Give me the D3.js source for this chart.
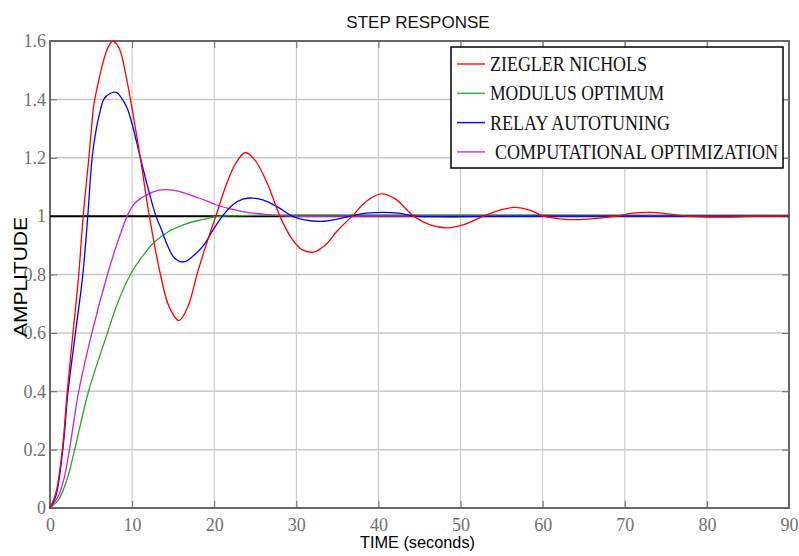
<!DOCTYPE html>
<meta charset="utf-8" />
<script src="https://d3js.org/d3.v7.min.js"></script>
<style>
  body { margin: 0; background: #fff; }
</style>
<div id="my_dataviz"></div>
<script>
  // step response samples: [time, amplitude]
  const zieglerNichols = [
    [0, 0], [0.7, 0.05], [1.5, 0.2], [2.1, 0.4], [2.8, 0.6], [3.5, 0.8], [4.04, 1.0],
    [4.73, 1.2], [5.05, 1.3], [5.33, 1.38], [5.95, 1.467], [6.55, 1.536],
    [7.1, 1.58], [7.65, 1.6], [8.1, 1.59], [8.58, 1.564], [9.19, 1.49], [9.8, 1.4],
    [11, 1.2], [12.1, 1.0], [13.45, 0.8], [14.5, 0.69], [15.7, 0.642],
    [16.8, 0.69], [17.9, 0.8], [19, 0.9], [20.2, 1.0], [21.5, 1.11], [22.6, 1.18],
    [23.8, 1.218], [25, 1.19], [26.5, 1.11], [28, 1.0], [29.5, 0.92], [30.7, 0.885],
    [32.1, 0.877], [33.5, 0.9], [35, 0.95], [36.8, 1.0], [38.5, 1.05], [40.3, 1.076],
    [42, 1.06], [44.3, 1.0], [46.3, 0.97], [48.4, 0.96], [50.5, 0.972], [52.8, 1.0],
    [54.7, 1.02], [56.6, 1.03], [58.5, 1.02], [60.1, 1.0], [62.3, 0.99], [64.6, 0.988],
    [67, 0.993], [69, 1.0], [71, 1.01], [73.1, 1.013], [75.3, 1.008], [77.5, 1.0],
    [80, 0.997], [83, 0.997], [86, 1.0], [90, 1.0]
  ];
  const modulusOptimum = [
    [0, 0], [1.07, 0.03], [2.1, 0.1], [3.0, 0.2], [4.7, 0.4], [7.0, 0.6],
    [8.2, 0.7], [9.8, 0.8], [11.2, 0.86], [12.6, 0.908], [14.3, 0.945], [15.07, 0.956],
    [16.3, 0.971], [18, 0.985], [18.9, 0.99], [19.9, 0.997], [22, 1.001], [25, 1.003],
    [30, 1.004], [40, 1.004], [60, 1.004], [90, 1.003]
  ];
  const relayAutotuning = [
    [0, 0], [0.7, 0.04], [1.56, 0.2], [2.2, 0.4], [3.1, 0.6], [4.0, 0.8], [4.6, 1.0],
    [5.13, 1.2], [5.62, 1.296], [6.0, 1.347], [6.55, 1.4], [7.3, 1.42], [8.1, 1.424],
    [8.7, 1.405], [9.4, 1.37], [10.08, 1.307], [11, 1.2], [11.9, 1.1], [12.9, 1.0],
    [13.57, 0.954], [14.3, 0.9], [15.2, 0.855], [16.3, 0.843], [17.5, 0.865],
    [18.7, 0.9], [19.8, 0.95], [21, 1.0], [22.3, 1.04], [23.5, 1.058], [24.6, 1.062],
    [26, 1.055], [27.8, 1.03], [29.5, 1.0], [31, 0.987], [33.1, 0.982], [35, 0.99],
    [36.6, 1.0], [38.5, 1.01], [40.6, 1.013], [42.5, 1.01], [44.4, 1.0], [47, 0.998],
    [50, 0.998], [54, 0.999], [60, 1.0], [90, 1.0]
  ];
  const computationalOpt = [
    [0, 0], [1.0, 0.04], [1.7, 0.1], [2.37, 0.2], [3.5, 0.4], [5.1, 0.6], [7.0, 0.8],
    [8.1, 0.9], [9.4, 1.0], [10.2, 1.04], [11, 1.06], [11.6, 1.07], [12.5, 1.082],
    [13.3, 1.089], [14.06, 1.091], [15.3, 1.087], [16.5, 1.078], [17.7, 1.066],
    [18.9, 1.054], [20.2, 1.039], [22, 1.025], [23.8, 1.014], [26, 1.007], [29, 1.0],
    [32, 0.999], [40, 1.0], [90, 1.0]
  ];

  const xTicks = [0, 10, 20, 30, 40, 50, 60, 70, 80, 90];
  const yTicks = [0, 0.2, 0.4, 0.6, 0.8, 1, 1.2, 1.4, 1.6];
  const seriesNames = ["ZIEGLER NICHOLS", "MODULUS OPTIMUM", "RELAY AUTOTUNING", "COMPUTATIONAL OPTIMIZATION"];
  const seriesData = [zieglerNichols, modulusOptimum, relayAutotuning, computationalOpt];
  const seriesColors = ["#ff0000", "#22a822", "#0000ff", "#cc22cc"];
  const legendColors = ["#ff2020", "#3cb043", "#1010ff", "#cc44cc"];
  const legendWidths = [157, 174, 180, 283];

  const margin = { top: 41, right: 10, bottom: 48, left: 50 },
    width = 789 - margin.left,
    height = 508 - margin.top;

  var svg = d3
    .select("#my_dataviz")
    .append("svg")
    .attr("width", 799)
    .attr("height", 556)
    .append("g")
    .attr("transform", `translate(${margin.left},${margin.top})`);

  var x = d3.scaleLinear().domain([0, 90]).range([0, width]);
  var y = d3.scaleLinear().domain([0, 1.6]).range([height, 0]);

  // grid
  svg
    .append("g")
    .selectAll("line")
    .data(xTicks.slice(1, -1))
    .join("line")
    .attr("x1", (d) => x(d))
    .attr("x2", (d) => x(d))
    .attr("y1", 0)
    .attr("y2", height)
    .attr("stroke", "#c4c4c4")
    .attr("stroke-width", 1);
  svg
    .append("g")
    .selectAll("line")
    .data(yTicks.slice(1, -1))
    .join("line")
    .attr("x1", 0)
    .attr("x2", width)
    .attr("y1", (d) => y(d))
    .attr("y2", (d) => y(d))
    .attr("stroke", "#c8c8c8")
    .attr("stroke-width", 1.5);

  // axes, ticks pointing inward
  const styleAxis = (g) => {
    g.attr("font-family", "'Liberation Serif', 'Times New Roman', serif").attr("font-size", 18);
    g.select(".domain").remove();
    g.selectAll(".tick line").attr("stroke", "#666").attr("stroke-width", 1);
    g.selectAll(".tick text").attr("fill", "#707070");
  };
  svg
    .append("g")
    .attr("transform", `translate(0,${height})`)
    .call(d3.axisBottom(x).tickValues(xTicks).tickSizeInner(-7).tickSizeOuter(0).tickPadding(10).tickFormat(d3.format("d")))
    .call(styleAxis);
  svg
    .append("g")
    .call(d3.axisTop(x).tickValues(xTicks).tickSizeInner(-7).tickSizeOuter(0).tickFormat(""))
    .call(styleAxis);
  svg
    .append("g")
    .call(d3.axisLeft(y).tickValues(yTicks).tickSizeInner(-7).tickSizeOuter(0).tickPadding(4).tickFormat((d) => (d === 0 || d === 1 ? d3.format("d")(d) : d3.format(".1f")(d))))
    .call(styleAxis);
  svg
    .append("g")
    .attr("transform", `translate(${width},0)`)
    .call(d3.axisRight(y).tickValues(yTicks).tickSizeInner(-7).tickSizeOuter(0).tickFormat(""))
    .call(styleAxis);

  // frame
  svg
    .append("rect")
    .attr("width", width)
    .attr("height", height)
    .attr("fill", "none")
    .attr("stroke", "#666")
    .attr("stroke-width", 2);

  // reference at 1
  svg
    .append("line")
    .attr("x1", x(0))
    .attr("x2", x(90))
    .attr("y1", y(1))
    .attr("y2", y(1))
    .attr("stroke", "#000")
    .attr("stroke-width", 2);

  var line = d3
    .line()
    .x((d) => x(d[0]))
    .y((d) => y(d[1]))
    .curve(d3.curveCatmullRom.alpha(0.5));

  [1, 3, 2, 0].forEach(function (i) {
    svg
      .append("path")
      .datum(seriesData[i])
      .attr("fill", "none")
      .attr("stroke", seriesColors[i])
      .attr("stroke-width", 1.3)
      .attr("d", line);
  });

  // legend
  var legend = svg.append("g").attr("transform", `translate(${451 - margin.left},${47 - margin.top})`);
  legend
    .append("rect")
    .attr("width", 332)
    .attr("height", 121)
    .attr("fill", "#fff")
    .attr("stroke", "#000")
    .attr("stroke-width", 1.5);
  seriesNames.forEach(function (name, i) {
    var rowY = 17 + i * 29.3;
    legend
      .append("line")
      .attr("x1", 6)
      .attr("x2", 34)
      .attr("y1", rowY)
      .attr("y2", rowY)
      .attr("stroke", legendColors[i])
      .attr("stroke-width", 1.5);
    // tall, narrow lettering as in the source figure
    legend
      .append("text")
      .attr("transform", `translate(${i === 3 ? 44 : 39},${rowY + 7}) scale(1,1.28)`)
      .attr("textLength", legendWidths[i])
      .attr("lengthAdjust", "spacingAndGlyphs")
      .style("font-family", "'Liberation Serif', 'Times New Roman', serif")
      .style("font-size", "17px")
      .style("fill", "#111")
      .text(name);
  });

  // titles
  var root = d3.select("#my_dataviz svg");
  root
    .append("text")
    .attr("x", 418)
    .attr("y", 28)
    .attr("text-anchor", "middle")
    .style("font-family", "'Liberation Sans', Arial, sans-serif")
    .style("font-size", "17px")
    .style("fill", "#111")
    .text("STEP RESPONSE");
  root
    .append("text")
    .attr("x", 360)
    .attr("y", 548)
    .attr("textLength", 115)
    .attr("lengthAdjust", "spacingAndGlyphs")
    .style("font-family", "'Liberation Sans', Arial, sans-serif")
    .style("font-size", "17px")
    .style("fill", "#000")
    .text("TIME (seconds)");
  root
    .append("text")
    .attr("transform", "translate(27,277) rotate(-90)")
    .attr("text-anchor", "middle")
    .attr("textLength", 120)
    .attr("lengthAdjust", "spacingAndGlyphs")
    .style("font-family", "'Liberation Sans', Arial, sans-serif")
    .style("font-size", "18px")
    .style("fill", "#000")
    .text("AMPLITUDE");
</script>
